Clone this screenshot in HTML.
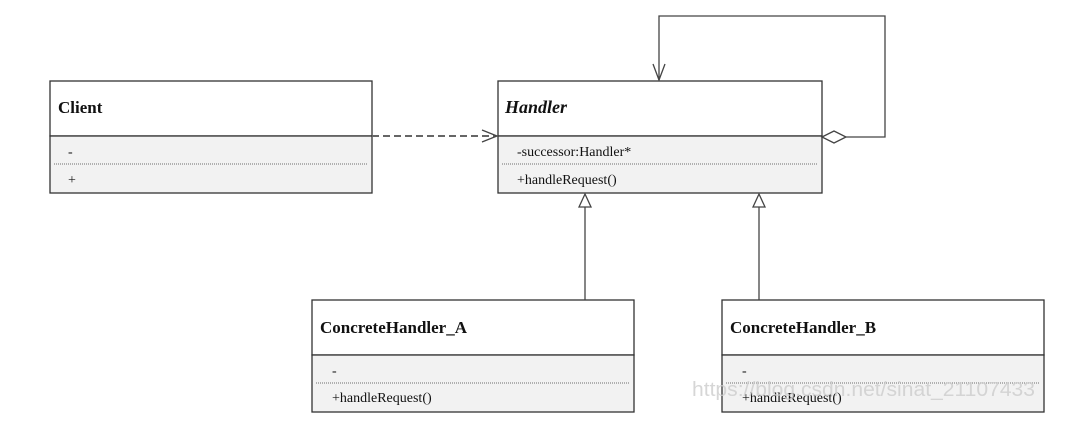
<!DOCTYPE html>
<html><head><style>
body{margin:0;background:#fff;width:1066px;height:442px;overflow:hidden;position:relative;font-family:"Liberation Serif",serif}
svg{position:absolute;left:0;top:0}
</style></head><body>
<svg width="1066" height="442" xmlns="http://www.w3.org/2000/svg" font-family="Liberation Serif, serif">
<g stroke="#333" stroke-width="1.3">
<rect x="50" y="81" width="322" height="55" fill="#fff"/>
<rect x="50" y="136" width="322" height="57" fill="#f2f2f2"/>
<line x1="54" y1="164" x2="368" y2="164" stroke="#888" stroke-dasharray="1,1"/>
<rect x="498" y="81" width="324" height="55" fill="#fff"/>
<rect x="498" y="136" width="324" height="57" fill="#f2f2f2"/>
<line x1="502" y1="164" x2="818" y2="164" stroke="#888" stroke-dasharray="1,1"/>
<rect x="312" y="300" width="322" height="55" fill="#fff"/>
<rect x="312" y="355" width="322" height="57" fill="#f2f2f2"/>
<line x1="316" y1="383" x2="630" y2="383" stroke="#888" stroke-dasharray="1,1"/>
<rect x="722" y="300" width="322" height="55" fill="#fff"/>
<rect x="722" y="355" width="322" height="57" fill="#f2f2f2"/>
<line x1="726" y1="383" x2="1040" y2="383" stroke="#888" stroke-dasharray="1,1"/>
</g>
<g stroke="#444" stroke-width="1.3" fill="none">
<line x1="372" y1="136" x2="496" y2="136" stroke="#666" stroke-dasharray="7,4" stroke-width="2"/>
<polyline points="482,130 497,136 482,142"/>
<polyline points="846,137 885,137 885,16 659,16 659,80"/>
<polyline points="653,64 659,80 665,64"/>
<polygon points="822,137 834,131 846,137 834,143" fill="#fff"/>
<line x1="585" y1="300" x2="585" y2="207"/>
<polygon points="579,207 585,194 591,207" fill="#fff"/>
<line x1="759" y1="300" x2="759" y2="207"/>
<polygon points="753,207 759,194 765,207" fill="#fff"/>
</g>
<g font-size="14" fill="#111">
<text x="58" y="113" font-weight="bold" font-size="17">Client</text>
<text x="68" y="156">-</text>
<text x="68" y="184">+</text>
<text x="505" y="113" font-weight="bold" font-style="italic" font-size="18">Handler</text>
<text x="517" y="156">-successor:Handler*</text>
<text x="517" y="184">+handleRequest()</text>
<text x="320" y="333" font-weight="bold" font-size="17">ConcreteHandler_A</text>
<text x="332" y="375">-</text>
<text x="332" y="402">+handleRequest()</text>
<text x="730" y="333" font-weight="bold" font-size="17">ConcreteHandler_B</text>
<text x="742" y="375">-</text>
<text x="742" y="402">+handleRequest()</text>
</g>
<text x="692" y="396" font-family="Liberation Sans, sans-serif" font-size="20" fill="#ccc" fill-opacity="0.8" textLength="343" lengthAdjust="spacingAndGlyphs">https://blog.csdn.net/sinat_21107433</text>
</svg>
</body></html>
